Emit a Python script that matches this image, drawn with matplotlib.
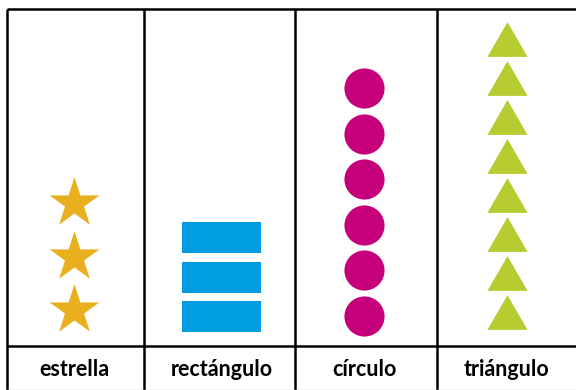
import matplotlib
matplotlib.use("Agg")
import matplotlib.pyplot as plt

categories = ["estrella", "rectángulo", "círculo", "triángulo"]
counts = [3, 3, 6, 8]

color_star   = "#E8B01F"
color_rect   = "#009EE0"
color_circle = "#C5007A"
color_tri    = "#B6CC30"

# layout in pixel units of the 576x390 canvas (y grows downwards)
col_edges = [7, 144, 295, 437, 578]
col_centers = [74, 221.5, 364, 507]
top_line = 9
row_line = 346
label_y = 370


def main():
    fig = plt.figure(figsize=(5.76, 3.9), dpi=100)
    ax = fig.add_axes([0, 0, 1, 1])
    ax.set_xlim(0, 576)
    ax.set_ylim(390, 0)
    ax.axis("off")

    # stars
    n = counts[0]
    ys = [310 - i * 53.5 for i in range(n)]
    ax.scatter([col_centers[0]] * n, ys, marker="*", s=1420,
               color=color_star, linewidths=0, zorder=3)

    # rectangles
    n = counts[1]
    tops = [301 - i * 39.5 for i in range(n)]
    ax.bar([col_centers[1]] * n, [31] * n, width=79, bottom=tops,
           color=color_rect, linewidth=0, zorder=3)

    # circles
    n = counts[2]
    ys = [316 - i * 45.6 for i in range(n)]
    ax.scatter([col_centers[2]] * n, ys, marker="o", s=835,
               color=color_circle, linewidths=0, zorder=3)

    # triangles
    n = counts[3]
    ys = [311.5 - i * 39 for i in range(n)]
    tri = [(-1, -0.866), (1, -0.866), (0, 0.866)]
    ax.scatter([col_centers[3]] * n, ys, marker=tri, s=835,
               color=color_tri, linewidths=0, zorder=3)

    # table lines
    lw = 1.8
    ax.plot([col_edges[0], 578], [top_line, top_line], color="black", lw=lw, solid_capstyle="butt")
    ax.plot([col_edges[0], 578], [row_line, row_line], color="black", lw=lw, solid_capstyle="butt")
    for x in col_edges[:-1]:
        ax.plot([x, x], [top_line, 392], color="black", lw=lw, solid_capstyle="butt")
    ax.plot([col_edges[0], 578], [389.5, 389.5], color="#c8c8c8", lw=1)

    for x, name in zip(col_centers, categories):
        ax.text(x, label_y, name, ha="center", va="center",
                fontsize=15.5, fontweight="bold", family="Lato")

    fig.savefig("out.png", dpi=100)


if __name__ == "__main__":
    main()
